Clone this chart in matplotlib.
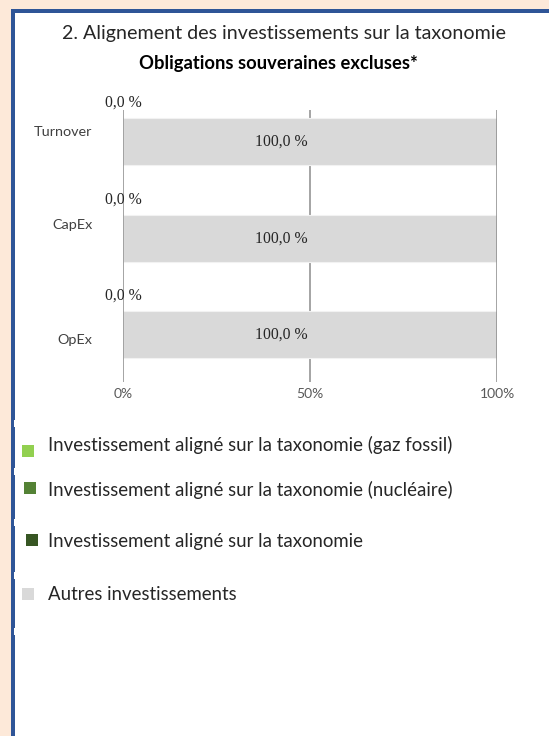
import matplotlib.pyplot as plt
import matplotlib.transforms as mtransforms
from matplotlib.patches import Rectangle
import numpy as np

categories = ["Turnover", "CapEx", "OpEx"]
gaz_fossil = [0.0, 0.0, 0.0]
nucleaire = [0.0, 0.0, 0.0]
aligne = [0.0, 0.0, 0.0]
autres = [100.0, 100.0, 100.0]
xticks = [0, 50, 100]
xtick_labels = ["0%", "50%", "100%"]

legend_labels = [
    "Investissement aligné sur la taxonomie (gaz fossil)",
    "Investissement aligné sur la taxonomie (nucléaire)",
    "Investissement aligné sur la taxonomie",
    "Autres investissements",
]
colors = ["#92D050", "#548235", "#375623", "#D9D9D9"]

sans = "Lato"
serif = "Liberation Serif"
W, H = 549, 736

fig = plt.figure(figsize=(W/100, H/100), dpi=100)
fig.patch.set_facecolor("#FDE9D9")


def box(x0, y0, w, h, c, z):
    # rectangle given in pixels from the top-left corner
    fig.patches.append(Rectangle((x0/W, 1 - (y0 + h)/H), w/W, h/H, transform=fig.transFigure,
                                 facecolor=c, edgecolor="none", zorder=z))


# white panel with blue left / top border (behind the axes)
box(15, 13, W, H, "white", -3)
box(11, 9, 4, H, "#2F5597", -2)
box(11, 9, W, 4, "#2F5597", -2)
for ny in [420, 468, 519, 572, 628]:
    box(14, ny, 1.5, 7, "white", -1)

fig.text(284/W, 1 - 34/H, "2. Alignement des investissements sur la taxonomie",
         ha="center", va="center", fontsize=14.1, family=sans, color="#262626")
fig.text(278/W, 1 - 63/H, "Obligations souveraines excluses*",
         ha="center", va="center", fontsize=13.2, family=sans, weight="bold", color="black")

ax = fig.add_axes([123/W, 1 - 382/H, 374/W, 272/H])
ax.set_facecolor("none")
y = np.arange(len(categories))
h = 0.49

left = np.zeros(len(categories))
series = [gaz_fossil, nucleaire, aligne, autres]
for vals, c in zip(series, colors):
    ax.barh(y, vals, left=left, height=h, color=c, edgecolor="#F2F2F2", linewidth=0.8, zorder=2)
    left = left + np.array(vals)

ax.set_xlim(0, 100)
ax.set_ylim(2.49, -0.33)
ax.set_xticks(xticks)
ax.set_xticklabels(xtick_labels, family=sans, fontsize=10, color="#595959")
ax.set_yticks(y)
ax.set_yticklabels(categories, family=sans, fontsize=10.4, color="#404040")
ax.tick_params(axis="both", length=0)
ax.tick_params(axis="x", pad=4)
ax.tick_params(axis="y", pad=22)
for v in xticks:
    ax.axvline(v, color="#8C8C8C", linewidth=1.1, zorder=1 if v == 50 else 3)
for s in ax.spines.values():
    s.set_visible(False)

# category labels are not centred on the bars in the original
offsets = [8, 10, -3]
for lab, dy in zip(ax.get_yticklabels(), offsets):
    lab.set_transform(lab.get_transform() + mtransforms.ScaledTranslation(0, dy/72, fig.dpi_scale_trans))

aligned_total = np.array(gaz_fossil) + np.array(nucleaire) + np.array(aligne)
for i in range(len(categories)):
    ax.annotate(f"{aligned_total[i]:.1f} %".replace(".", ","), (aligned_total[i], y[i] - h/2),
                xytext=(0, 11), textcoords="offset points", ha="center", va="center",
                family=serif, fontsize=11.3, color="#262626", zorder=5)
    ax.annotate(f"{autres[i]:.1f} %".replace(".", ","), (aligned_total[i] + autres[i]/2, y[i]),
                xytext=(-21, 0), textcoords="offset points", ha="center", va="center",
                family=serif, fontsize=11.3, color="#262626", zorder=5)

# legend
leg_y = [445, 490, 541, 594]
mark_y = [451, 488, 540, 594]
mark_x = [28, 30, 32, 28]
for lab, c, ty, my, mx in zip(legend_labels, colors, leg_y, mark_y, mark_x):
    box(mx - 6, my - 6, 12, 12, c, 3)
    fig.text(48/W, 1 - ty/H, lab, ha="left", va="center", fontsize=13.4,
             family=sans, color="#262626")

fig.savefig("out.png", dpi=100, facecolor=fig.get_facecolor())
